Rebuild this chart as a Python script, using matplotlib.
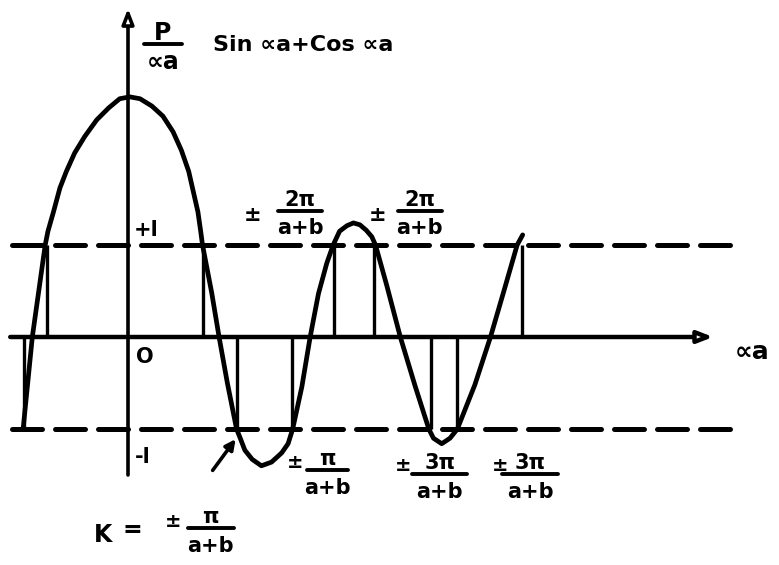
import numpy as np
import matplotlib
matplotlib.use("Agg")
import matplotlib.pyplot as plt

# curve P/(αa) sin αa + cos αa (x in αa units, y in units of the ±1 lines)
curve_x = [-1.14, -1.04, -0.90, -0.87, -0.81, -0.74, -0.67, -0.58, -0.47, -0.34, -0.21, -0.09,
           0.02, 0.13, 0.26, 0.38, 0.49, 0.58, 0.66, 0.71, 0.76, 0.79, 0.81, 0.91, 0.99, 1.08,
           1.18, 1.22, 1.27, 1.35, 1.45, 1.56, 1.67, 1.74, 1.79, 1.89, 1.98, 2.07, 2.16, 2.23,
           2.30, 2.38, 2.45, 2.52, 2.59, 2.65, 2.69, 2.81, 2.96, 3.12, 3.27, 3.32, 3.41, 3.50,
           3.58, 3.77, 3.94, 4.08, 4.23, 4.29]
curve_y = [-1.0, 0.0, 1.0, 1.15, 1.36, 1.62, 1.80, 2.00, 2.18, 2.36, 2.49, 2.59,
           2.61, 2.59, 2.51, 2.40, 2.23, 2.03, 1.80, 1.58, 1.36, 1.15, 1.0, 0.48, 0.0, -0.50,
           -1.0, -1.10, -1.23, -1.33, -1.40, -1.36, -1.26, -1.16, -1.0, -0.54, 0.0, 0.47, 0.80, 1.0,
           1.15, 1.21, 1.24, 1.22, 1.16, 1.09, 1.0, 0.57, 0.0, -0.53, -1.0, -1.10, -1.16, -1.10,
           -1.0, -0.52, 0.0, 0.48, 1.0, 1.11]

# allowed band edges, marked with verticals
upper_edges = [-0.88, 0.82, 2.24, 2.67, 4.28]
lower_edges = [-1.13, 1.18, 1.78, 3.29, 3.58]
levels = [1, -1]

FONT = dict(family="DejaVu Sans", weight="bold", color="black")

fig = plt.figure(figsize=(7.79, 5.65), dpi=100)
ax = fig.add_axes([0, 0, 1, 1])
ax.set_xlim(-128 / 92, 651 / 92)
ax.set_ylim(-228 / 92, 337 / 92)
ax.axis("off")

# axes with arrow heads
ax.annotate("", xy=(6.36, 0), xytext=(-1.28, 0),
            arrowprops=dict(arrowstyle="-|>,head_length=0.9,head_width=0.35",
                            lw=3.2, fc="white", ec="black", shrinkA=0, shrinkB=0))
ax.annotate("", xy=(0, 3.57), xytext=(0, -1.50),
            arrowprops=dict(arrowstyle="-|>,head_length=0.9,head_width=0.35",
                            lw=2.6, fc="white", ec="black", shrinkA=0, shrinkB=0))

# dashed +1 / -1 lines
for lv in levels:
    ax.plot([-1.26, 6.60], [lv, lv], color="black", lw=3.6, dashes=(6, 2.6),
            solid_capstyle="round", dash_capstyle="round")

ax.vlines(upper_edges, 0, 1, color="black", lw=2.4)
ax.vlines(lower_edges, -1, 0, color="black", lw=2.4)

ax.plot(curve_x, curve_y, color="black", lw=3.4, solid_joinstyle="round",
        solid_capstyle="round")


def frac(xc, ytop, top, bottom, width, size=15):
    ax.text(xc, ytop, top, ha="center", va="center", fontsize=size, **FONT)
    ax.plot([xc - width / 2, xc + width / 2], [ytop - 0.12, ytop - 0.12],
            color="black", lw=2.8, solid_capstyle="round")
    ax.text(xc, ytop - 0.31, bottom, ha="center", va="center", fontsize=size, **FONT)


# labels
frac(0.38, 3.30, "P", "∝a", 0.42, size=17)
ax.text(0.92, 3.17, "Sin ∝a+Cos ∝a", ha="left", va="center", fontsize=16, **FONT)
ax.text(0.06, 1.16, "+l", ha="left", va="center", fontsize=15, **FONT)
ax.text(0.18, -0.22, "O", ha="center", va="center", fontsize=15, **FONT)
ax.text(0.08, -1.30, "-l", ha="left", va="center", fontsize=15, **FONT)
ax.text(6.78, -0.16, "∝a", ha="center", va="center", fontsize=18, **FONT)

ax.text(1.35, 1.33, "±", ha="center", va="center", fontsize=15, **FONT)
frac(1.87, 1.49, "2π", "a+b", 0.48)
ax.text(2.71, 1.33, "±", ha="center", va="center", fontsize=15, **FONT)
frac(3.17, 1.49, "2π", "a+b", 0.48)

ax.text(1.82, -1.36, "±", ha="center", va="center", fontsize=14, **FONT)
frac(2.17, -1.33, "π", "a+b", 0.44)
ax.text(2.99, -1.40, "±", ha="center", va="center", fontsize=14, **FONT)
frac(3.39, -1.37, "3π", "a+b", 0.60)
ax.text(4.04, -1.40, "±", ha="center", va="center", fontsize=14, **FONT)
frac(4.37, -1.37, "3π", "a+b", 0.60)

ax.text(-0.27, -2.15, "K", ha="center", va="center", fontsize=17, **FONT)
ax.text(0.05, -2.10, "=", ha="center", va="center", fontsize=17, **FONT)
ax.text(0.49, -2.01, "±", ha="center", va="center", fontsize=14, **FONT)
frac(0.90, -1.96, "π", "a+b", 0.50)

# pointer to the first band edge
ax.annotate("", xy=(1.17, -1.11), xytext=(0.92, -1.45),
            arrowprops=dict(arrowstyle="-|>,head_length=0.6,head_width=0.3",
                            lw=2.6, color="black", shrinkA=0, shrinkB=0))

fig.savefig("out.png", dpi=100, facecolor="white")
